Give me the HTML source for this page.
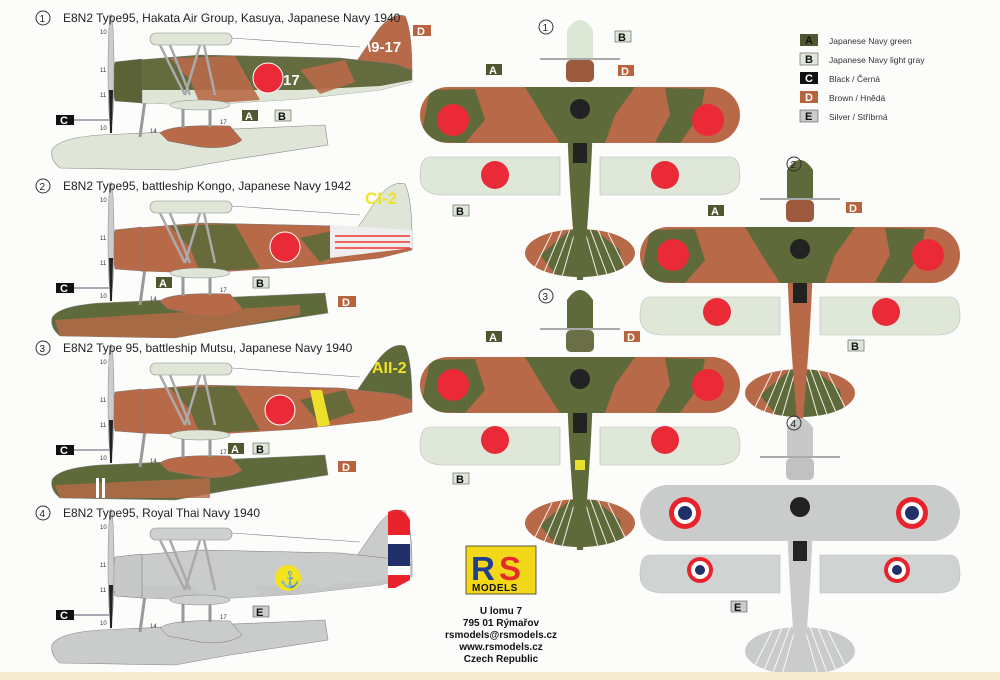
<!DOCTYPE html>
<html><head><meta charset="utf-8"><style>
html,body{margin:0;padding:0;background:#fcfcfb;}
svg{display:block;font-family:"Liberation Sans",sans-serif;}
.t{font-size:12px;fill:#222;}
.s{font-size:6px;fill:#333;}
.lb{font-size:11px;font-weight:bold;}
</style></head><body>
<svg width="1000" height="680" viewBox="0 0 1000 680" xmlns="http://www.w3.org/2000/svg">
<defs>
<clipPath id="wclip"><rect x="-160" y="-28" width="320" height="56" rx="28"/></clipPath>
<clipPath id="tclip"><ellipse cx="0" cy="138" rx="55" ry="24"/></clipPath>
<g id="side">
  <path d="M52,150 Q58,138 100,135 L325,125 L328,145 L230,160 L175,170 L60,168 Q50,160 52,150 Z" fill="var(--fl)" stroke="#888" stroke-width="0.6"/>
  <path d="M160,133 Q170,124 230,126 L242,140 Q230,150 200,147 L168,141 Z" fill="var(--fn)" stroke="#777" stroke-width="0.5"/>
  <line x1="145" y1="100" x2="140" y2="137" stroke="#999" stroke-width="3"/>
  <line x1="183" y1="105" x2="183" y2="128" stroke="#999" stroke-width="3"/>
  <line x1="210" y1="105" x2="210" y2="127" stroke="#999" stroke-width="3"/>
  <path d="M352,68 L378,30 Q392,12 405,16 Q412,30 412,72 Z" fill="var(--tl)" stroke="#777" stroke-width="0.5"/>
  <path d="M138,60 L200,55 L340,58 L395,64 L412,70 L412,82 L380,90 L300,99 L200,105 L140,103 Z" fill="var(--fu)" stroke="#777" stroke-width="0.5"/>
  <path d="M140,90 L300,90 L380,86 L412,80 L412,82 L380,90 L300,99 L200,105 L140,103 Z" fill="var(--fb)"/>
  <path d="M170,58 L235,56 L260,100 L200,104 L190,80 Z" fill="var(--fc)" opacity="0.9"/>
  <path d="M300,70 L345,60 L355,82 L320,94 Z" fill="var(--fc)" opacity="0.9"/>
  <path d="M115,62 Q110,82 115,101 L142,103 L142,59 Z" fill="var(--cw)" stroke="#777" stroke-width="0.5"/>
  <rect x="150" y="33" width="82" height="12" rx="6" fill="var(--wg)" stroke="#888" stroke-width="0.6"/>
  <line x1="232" y1="38" x2="360" y2="47" stroke="#777" stroke-width="0.6"/>
  <g stroke="#aaa" stroke-width="2.5">
    <line x1="160" y1="45" x2="185" y2="95"/><line x1="170" y1="45" x2="190" y2="95"/>
    <line x1="200" y1="45" x2="185" y2="95"/><line x1="204" y1="45" x2="215" y2="95"/>
  </g>
  <ellipse cx="200" cy="105" rx="30" ry="5" fill="var(--wg)" stroke="#888" stroke-width="0.5"/>
  <ellipse cx="111" cy="70" rx="3" ry="56" fill="#ccc" stroke="#888" stroke-width="0.5"/>
  <path d="M109,90 L113,90 L112,133 L110,133 Z" fill="#222"/>
  <rect x="56" y="115" width="18" height="10" fill="#111"/>
  <text x="60" y="124" fill="#fff" class="lb" font-size="10">C</text>
  <line x1="74" y1="120" x2="109" y2="120" stroke="#224" stroke-width="0.8"/>
  <g class="s"><text x="100" y="34">10</text><text x="100" y="72">11</text><text x="100" y="97">11</text><text x="100" y="130">10</text><text x="150" y="133">14</text><text x="220" y="124">17</text></g>
</g>

<g id="top">
  <g clip-path="url(#tclip)">
    <rect x="-60" y="110" width="120" height="60" fill="var(--tb)"/>
    <path d="M-40,140 L-10,115 L15,115 L40,135 L45,165 L-20,165 Z" fill="var(--tc)"/>
    <g stroke="#fff" stroke-width="1" opacity="0.9">
      <line x1="-48" y1="158" x2="-28" y2="118"/><line x1="-38" y1="162" x2="-18" y2="115"/><line x1="-28" y1="162" x2="-10" y2="114"/><line x1="-18" y1="162" x2="-4" y2="113"/>
      <line x1="48" y1="158" x2="28" y2="118"/><line x1="38" y1="162" x2="18" y2="115"/><line x1="28" y1="162" x2="10" y2="114"/><line x1="18" y1="162" x2="4" y2="113"/>
    </g>
  </g>
  <path d="M-150,42 L-20,42 L-20,80 L-140,80 Q-160,78 -160,62 Q-160,42 -150,42 Z" fill="var(--pn)" stroke="#bbb" stroke-width="0.6"/>
  <path d="M150,42 L20,42 L20,80 L140,80 Q160,78 160,62 Q160,42 150,42 Z" fill="var(--pn)" stroke="#bbb" stroke-width="0.6"/>
  <path d="M-13,0 Q-12,60 -3,165 L3,165 Q12,60 13,0 Z" fill="var(--fs)"/>
  <path d="M-7,20 Q0,10 7,20 L7,48 L-7,48 Z" fill="var(--fc2)"/>
  <g clip-path="url(#wclip)">
    <rect x="-160" y="-28" width="320" height="56" fill="var(--wb)"/>
    <path d="M-150,-25 L-105,-26 L-95,5 L-115,28 L-160,26 Z" fill="var(--wc)"/>
    <path d="M-55,-28 L55,-28 L35,0 L25,28 L-20,28 L-35,5 Z" fill="var(--wc)"/>
    <path d="M85,-27 L125,-26 L120,0 L100,28 L75,27 L90,0 Z" fill="var(--wc)"/>
  </g>
  <circle cx="0" cy="-6" r="10" fill="#222"/>
  <rect x="-14" y="-55" width="28" height="22" rx="5" fill="var(--cw)"/>
  <line x1="-40" y1="-56" x2="40" y2="-56" stroke="#aaa" stroke-width="2"/>
  <path d="M-13,-57 L-13,-85 Q0,-105 13,-85 L13,-57 Z" fill="var(--ns)"/>
</g>
</defs>

<g style="--fl:#dfe6d8;--fn:#b86a48;--tl:#b86a48;--fu:#646b3e;--fb:#dfe6d8;--fc:#b86a48;--cw:#5c6236;--wg:#dfe6d8;">
  <use href="#side"/>
</g>
<circle cx="268" cy="78" r="15" fill="#ea2b37" stroke="#fff" stroke-width="1"/>
<text x="283" y="85" fill="#fff" font-size="15" font-weight="bold">17</text>
<text x="367" y="52" fill="#fff" font-size="15" font-weight="bold">\9-17</text>

<g transform="translate(0,168)" style="--fl:#5e6a3a;--fn:#b86a48;--tl:#dfe6d8;--fu:#b86a48;--fb:#b86a48;--fc:#5e6a3a;--cw:#b86a48;--wg:#dfe6d8;">
  <use href="#side"/>
</g>
<path d="M330,225 L412,230 L412,248 L330,258 Z" fill="#eee"/>
<g stroke="#e33" stroke-width="1.5"><line x1="335" y1="236" x2="410" y2="236"/><line x1="335" y1="242" x2="410" y2="242"/><line x1="335" y1="248" x2="410" y2="248"/></g>
<path d="M55,320 L300,305 L300,315 L230,328 L175,338 L60,336 Z" fill="#b86a48" opacity="0.8"/>
<circle cx="285" cy="247" r="15" fill="#ea2b37" stroke="#fff" stroke-width="1"/>
<text x="365" y="204" fill="#eee22a" font-size="17" font-weight="bold">CI-2</text>

<g transform="translate(0,330)" style="--fl:#5e6a3a;--fn:#b86a48;--tl:#5e6a3a;--fu:#b86a48;--fb:#b86a48;--fc:#5e6a3a;--cw:#b86a48;--wg:#dfe6d8;">
  <use href="#side"/>
</g>
<path d="M55,485 L210,478 L210,498 L60,498 Z" fill="#b86a48" opacity="0.8"/>
<rect x="96" y="478" width="3" height="20" fill="#fff"/><rect x="102" y="478" width="3" height="20" fill="#fff"/>
<path d="M310,390 L322,390 L330,425 L318,427 Z" fill="#ede02a"/>
<circle cx="280" cy="410" r="15" fill="#ea2b37" stroke="#fff" stroke-width="1"/>
<text x="372" y="373" fill="#eee22a" font-size="16" font-weight="bold">AII-2</text>

<g transform="translate(0,495)" style="--fl:#c9cccb;--fn:#c9cccb;--tl:#c9cccb;--fu:#c9cccb;--fb:#c4c7c6;--fc:#c9cccb;--cw:#c6c9c8;--wg:#cdd0cf;">
  <use href="#side"/>
</g>
<path d="M388,512 Q402,505 410,520 L410,535 L388,535 Z" fill="#e8232c"/>
<rect x="388" y="535" width="22" height="9" fill="#fff"/>
<rect x="388" y="544" width="22" height="22" fill="#21306a"/>
<rect x="388" y="566" width="22" height="9" fill="#fff"/>
<path d="M388,575 L410,575 L410,580 L395,588 L388,588 Z" fill="#e8232c"/>
<circle cx="288" cy="578" r="13" fill="#f2e31e"/>
<text x="280" y="585" font-size="16" fill="#111">⚓</text>

<g class="t">
  <circle cx="43" cy="18" r="7" fill="none" stroke="#333"/><text x="39.5" y="22" font-size="10">1</text>
  <text x="63" y="22">E8N2 Type95, Hakata Air Group, Kasuya, Japanese Navy 1940</text>
  <circle cx="43" cy="186" r="7" fill="none" stroke="#333"/><text x="39.5" y="190" font-size="10">2</text>
  <text x="63" y="190">E8N2 Type95, battleship Kongo, Japanese Navy 1942</text>
  <circle cx="43" cy="348" r="7" fill="none" stroke="#333"/><text x="39.5" y="352" font-size="10">3</text>
  <text x="63" y="352">E8N2 Type 95, battleship Mutsu, Japanese Navy 1940</text>
  <circle cx="43" cy="513" r="7" fill="none" stroke="#333"/><text x="39.5" y="517" font-size="10">4</text>
  <text x="63" y="517">E8N2 Type95, Royal Thai Navy 1940</text>
</g>

<g class="lb">
  <rect x="413" y="25" width="18" height="11" fill="#b8643f"/><text x="417" y="35" fill="#fff">D</text>
  <rect x="242" y="110" width="16" height="11" fill="#4f5730"/><text x="245" y="120" fill="#fff">A</text>
  <rect x="275" y="110" width="16" height="11" fill="#dfe8d8" stroke="#555" stroke-width="0.6"/><text x="278" y="120" fill="#111">B</text>
  <rect x="156" y="277" width="16" height="11" fill="#4f5730"/><text x="159" y="287" fill="#fff">A</text>
  <rect x="253" y="277" width="16" height="11" fill="#dfe8d8" stroke="#555" stroke-width="0.6"/><text x="256" y="287" fill="#111">B</text>
  <rect x="338" y="296" width="18" height="11" fill="#b8643f"/><text x="342" y="306" fill="#fff">D</text>
  <rect x="228" y="443" width="16" height="11" fill="#4f5730"/><text x="231" y="453" fill="#fff">A</text>
  <rect x="253" y="443" width="16" height="11" fill="#dfe8d8" stroke="#555" stroke-width="0.6"/><text x="256" y="453" fill="#111">B</text>
  <rect x="338" y="461" width="18" height="11" fill="#b8643f"/><text x="342" y="471" fill="#fff">D</text>
  <rect x="253" y="606" width="16" height="11" fill="#c9cccb" stroke="#555" stroke-width="0.6"/><text x="256" y="616" fill="#111">E</text>
</g>

<g transform="translate(580,115)" style="--tb:#b86a48;--tc:#5e6a3a;--pn:#dfe8d8;--fs:#5e6a3a;--fc2:#222;--wb:#b86a48;--wc:#5e6a3a;--cw:#9e5a3c;--ns:#dbe7d4;"><use href="#top"/></g>
<g transform="translate(800,255)" style="--tb:#b86a48;--tc:#5e6a3a;--pn:#dfe8d8;--fs:#b86a48;--fc2:#222;--wb:#b86a48;--wc:#5e6a3a;--cw:#9e5a3c;--ns:#5e6a3a;"><use href="#top"/></g>
<g transform="translate(580,385)" style="--tb:#b86a48;--tc:#5e6a3a;--pn:#dfe8d8;--fs:#5e6a3a;--fc2:#222;--wb:#b86a48;--wc:#5e6a3a;--cw:#6a6f45;--ns:#5e6a3a;"><use href="#top"/></g>
<g transform="translate(800,513)" style="--tb:#c9cccb;--tc:#c9cccb;--pn:#cfd3d2;--fs:#c9cccb;--fc2:#222;--wb:#c9cccb;--wc:#c9cccb;--cw:#bfc2c1;--ns:#c6c9c8;"><use href="#top"/></g>
<rect x="575" y="460" width="10" height="10" fill="#e8e02a"/>

<g fill="#ea2b37">
  <circle cx="453" cy="120" r="16"/><circle cx="708" cy="120" r="16"/>
  <circle cx="495" cy="175" r="14"/><circle cx="665" cy="175" r="14"/>
  <circle cx="673" cy="255" r="16"/><circle cx="928" cy="255" r="16"/>
  <circle cx="717" cy="312" r="14"/><circle cx="886" cy="312" r="14"/>
  <circle cx="453" cy="385" r="16"/><circle cx="708" cy="385" r="16"/>
  <circle cx="495" cy="440" r="14"/><circle cx="665" cy="440" r="14"/>
</g>
<g>
  <circle cx="685" cy="513" r="16" fill="#e8232c"/><circle cx="685" cy="513" r="11" fill="#fff"/><circle cx="685" cy="513" r="7" fill="#21306a"/>
  <circle cx="912" cy="513" r="16" fill="#e8232c"/><circle cx="912" cy="513" r="11" fill="#fff"/><circle cx="912" cy="513" r="7" fill="#21306a"/>
  <circle cx="700" cy="570" r="13" fill="#e8232c"/><circle cx="700" cy="570" r="9" fill="#fff"/><circle cx="700" cy="570" r="5" fill="#21306a"/>
  <circle cx="897" cy="570" r="13" fill="#e8232c"/><circle cx="897" cy="570" r="9" fill="#fff"/><circle cx="897" cy="570" r="5" fill="#21306a"/>
</g>

<g class="t">
  <circle cx="546" cy="27" r="7" fill="none" stroke="#333"/><text x="542.5" y="31" font-size="10">1</text>
  <circle cx="794" cy="164" r="7" fill="none" stroke="#333"/><text x="790.5" y="168" font-size="10">2</text>
  <circle cx="546" cy="296" r="7" fill="none" stroke="#333"/><text x="542.5" y="300" font-size="10">3</text>
  <circle cx="794" cy="423" r="7" fill="none" stroke="#333"/><text x="790.5" y="427" font-size="10">4</text>
</g>
<g class="lb">
  <rect x="615" y="31" width="16" height="11" fill="#dfe8d8" stroke="#555" stroke-width="0.6"/><text x="618" y="41" fill="#111">B</text>
  <rect x="486" y="64" width="16" height="11" fill="#4f5730"/><text x="489" y="74" fill="#fff">A</text>
  <rect x="618" y="65" width="16" height="11" fill="#b8643f"/><text x="621" y="75" fill="#fff">D</text>
  <rect x="453" y="205" width="16" height="11" fill="#dfe8d8" stroke="#555" stroke-width="0.6"/><text x="456" y="215" fill="#111">B</text>
  <rect x="708" y="205" width="16" height="11" fill="#4f5730"/><text x="711" y="215" fill="#fff">A</text>
  <rect x="846" y="202" width="16" height="11" fill="#b8643f"/><text x="849" y="212" fill="#fff">D</text>
  <rect x="848" y="340" width="16" height="11" fill="#dfe8d8" stroke="#555" stroke-width="0.6"/><text x="851" y="350" fill="#111">B</text>
  <rect x="486" y="331" width="16" height="11" fill="#4f5730"/><text x="489" y="341" fill="#fff">A</text>
  <rect x="624" y="331" width="16" height="11" fill="#b8643f"/><text x="627" y="341" fill="#fff">D</text>
  <rect x="453" y="473" width="16" height="11" fill="#dfe8d8" stroke="#555" stroke-width="0.6"/><text x="456" y="483" fill="#111">B</text>
  <rect x="731" y="601" width="16" height="11" fill="#c9cccb" stroke="#555" stroke-width="0.6"/><text x="734" y="611" fill="#111">E</text>
</g>

<g font-size="8.5" fill="#333">
  <rect x="800" y="34" width="18" height="12" fill="#4f5730"/><text x="805" y="44" fill="#111" class="lb">A</text><text x="829" y="44">Japanese Navy green</text>
  <rect x="800" y="53" width="18" height="12" fill="#dfe8d8" stroke="#555" stroke-width="0.6"/><text x="805" y="63" fill="#111" class="lb">B</text><text x="829" y="63">Japanese Navy light gray</text>
  <rect x="800" y="72" width="18" height="12" fill="#111"/><text x="805" y="82" fill="#fff" class="lb">C</text><text x="829" y="82">Black / Černá</text>
  <rect x="800" y="91" width="18" height="12" fill="#b8643f"/><text x="805" y="101" fill="#fff" class="lb">D</text><text x="829" y="101">Brown / Hnědá</text>
  <rect x="800" y="110" width="18" height="12" fill="#c9cccb" stroke="#555" stroke-width="0.6"/><text x="805" y="120" fill="#111" class="lb">E</text><text x="829" y="120">Silver / Stříbrná</text>
</g>

<rect x="466" y="546" width="70" height="48" fill="#f3d81a" stroke="#333" stroke-width="0.8"/>
<text x="471" y="580" font-size="33" font-weight="bold" fill="#1f3f8f">R</text>
<text x="499" y="580" font-size="33" font-weight="bold" fill="#e52c2c">S</text>
<text x="472" y="591" font-size="10" font-weight="bold" fill="#111" letter-spacing="0.5">MODELS</text>
<g font-size="10" font-weight="bold" fill="#111" text-anchor="middle">
  <text x="501" y="614">U lomu 7</text>
  <text x="501" y="626">795 01 Rýmařov</text>
  <text x="501" y="638">rsmodels@rsmodels.cz</text>
  <text x="501" y="650">www.rsmodels.cz</text>
  <text x="501" y="662">Czech Republic</text>
</g>
<rect x="0" y="672" width="1000" height="8" fill="#f3ead0"/>
</svg>
</body></html>
